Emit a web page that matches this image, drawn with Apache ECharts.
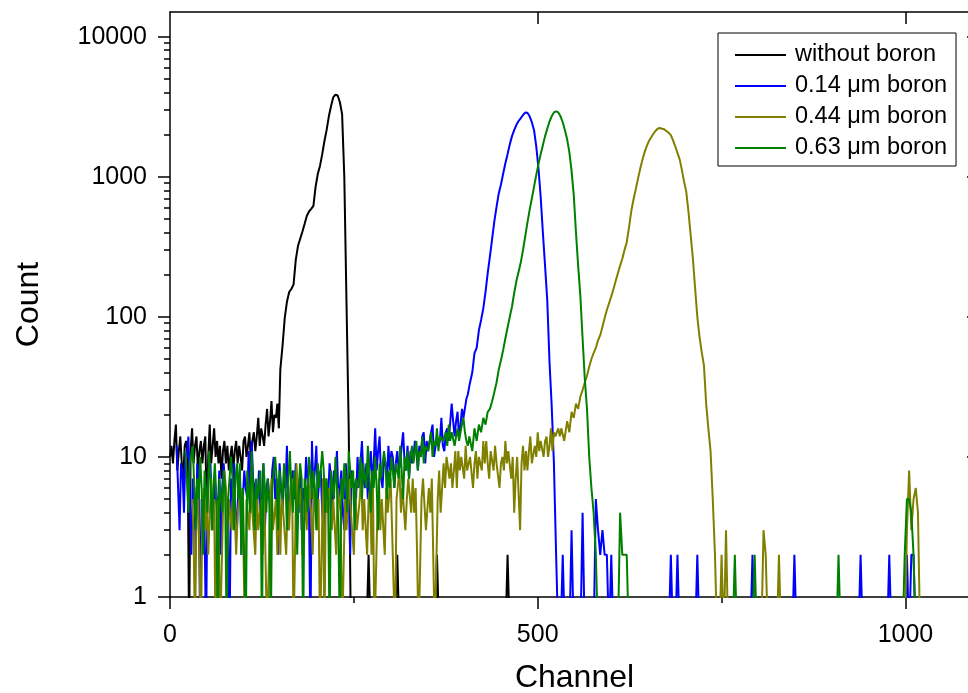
<!DOCTYPE html>
<html><head><meta charset="utf-8">
<script src="https://cdn.jsdelivr.net/npm/echarts@6/dist/echarts.min.js"></script>
<style>html,body{margin:0;padding:0;background:#fff}#chart{width:968px;height:693px}</style>
</head><body><div id="chart"></div>
<script>
// ---- data ----
const seriesNames = ['without boron', '0.14 \u03bcm boron', '0.44 \u03bcm boron', '0.63 \u03bcm boron'];
const xTickValues = [0, 500, 1000];
const xMinorTickValues = [250, 750];
const xTopTickValues = [500, 1000];
const yTickValues = [1, 10, 100, 1000, 10000];
const yRightTickValues = [10, 100, 1000, 10000];
const yMinorTickValues = [2,3,4,5,6,7,8,9,20,30,40,50,60,70,80,90,200,300,400,500,600,700,800,900,2000,3000,4000,5000,6000,7000,8000,9000];

// Low-count noise region: counts every NOISE_STEP channels from a start channel
const NOISE_STEP = 2;
const withoutBoronNoiseStart = 0;
const withoutBoronNoise = [10,12,9,13,17,8,11,14,9,7, 12,13,10,0,11,16,9,12,14,8, 11,13,9,12,14,4,10,17,9,12, 16,10,13,9,12,7,11,13,9,12, 8,10,12,8,11,13,9,12,10,8, 13,14,10,12,15,9,13,15,11,14, 19,12,16,14,12,17,22,14,18,25, 15,20,19,24,16];
const boron014NoiseStart = 9;
const boron014Noise = [12,6,3,9,8,4,11,10,14,5, 2,7,6,2,9,7,0,5,4,3, 0,6,8,9,4,3,7,5,4,8, 2,6,9,6,5,3,0,7,5,9, 4,3,6,8,2,5,8,6,5,11, 4,13,7,6,3,5,8,4,5,9, 3,6,7,5,4,8,10,5,7,2, 9,6,4,7,6,12,3,5,7,8, 5,9,6,4,8,3,6,5,10,7, 4,0,13,6,8,12,5,7,8,4, 3,7,6,5,9,7,4,8,7,11, 5,6,8,4,3,9,6,7,2,8, 8,6,5,10,6,9,13,7,6,9, 5,8,11,7,9,16,8,11,14,7, 6,10,9,7,12,8,11,10,6,9, 11,8,9,12,15,9,8,12,7,11, 9,10,13,11,8,12,10,14,15,9, 13,11,11,15,17,10,10,14,12,13, 19,12,11,15,16,13,13,24,18,14, 18,21,14,17,22,19,19,26,28,32];
const boron044NoiseStart = 30;
const boron044Noise = [5,3,0,4,6,2,0,4,6,3, 5,2,2,7,3,5,0,4,5,0, 0,4,8,6,2,5,5,3,6,4, 2,4,4,6,3,2,0,5,5,3, 7,4,4,2,6,3,3,5,2,6, 6,0,0,4,7,3,3,5,2,6, 2,6,4,4,2,5,3,6,7,0, 0,9,4,4,6,2,2,5,3,7, 7,4,2,6,6,3,5,0,0,7, 0,7,4,6,6,3,5,5,2,6, 6,4,0,0,5,3,3,7,4,4, 2,6,3,3,5,8,3,5,5,2, 5,6,2,6,0,0,4,7,3,5, 5,2,6,4,4,7,3,3,0,5, 5,8,4,6,6,3,5,7,7,4, 7,4,6,2,0,0,5,7,7,3, 3,6,4,7,7,0,0,5,8,4, 4,9,6,10,10,7,9,6,8,11, 6,11,8,10,10,7,12,8,8,10, 10,6,9,11,7,10,10,8,13,9, 13,9,7,11,11,8,12,9,9,6, 9,10,8,13,9,11,11,7,10,4, 7,10,10,3,9,12,8,11,8,11, 14,9,9,12,10,15,11,13,13,10, 13,14,10,12,16,11,15,14,14,16, 14,16,16,13];
const boron063NoiseStart = 21;
const boron063Noise = [11,7,4,9,9,12,6,3,7,5, 10,6,2,8,8,4,11,7,3,6, 9,5,0,7,7,4,8,6,0,5, 5,10,7,3,7,9,5,9,2,6, 6,0,8,8,4,11,6,3,7,5, 5,8,0,9,9,4,7,5,0,6, 6,10,7,3,8,6,5,9,7,3, 7,11,6,4,8,5,2,6,9,7, 0,7,6,4,10,8,5,8,6,3, 9,6,6,11,8,4,7,5,0,8, 8,5,10,6,3,0,7,5,9,7, 4,11,8,6,8,3,7,6,7,10, 5,9,7,6,12,8,4,8,6,10, 6,3,9,7,7,11,9,5,8,6, 10,8,6,9,9,7,12,8,5,10, 8,11,7,10,12,9,9,13,8,11, 10,14,9,12,12,11,11,15,10,13, 12,16,11,14,14,13,13,15,12,17, 13,15,15,12,14,16,13,15,17,19, 15,13,12,14];

// Peaks and sparse tails: [channel, count]
const withoutBoronPeak = [[150,42],[153,62],[156,98],[159,128],[162,150],[165,158],[168,170],[171,255],[174,320],[177,360],[180,405],[183,460],[186,525],[189,565],[192,590],[195,620],[198,850],[201,1050],[204,1200],[207,1450],[210,1800],[213,2160],[216,2700],[219,3200],[222,3700],[225,3850],[228,3800],[231,3400],[234,2800],[237,1000],[240,125],[243,16],[246,0],[267,0],[270,2],[273,0],[306,0],[309,2],[312,0],[360,0],[363,2],[366,0],[456,0],[459,2],[462,0],[1023,0]];

const boron014Peak = [[408,34],[411,40],[414,55],[417,60],[420,80],[423,95],[426,115],[429,150],[432,205],[435,270],[438,360],[441,480],[444,610],[447,760],[450,880],[453,1050],[456,1250],[459,1450],[462,1700],[465,1950],[468,2150],[471,2350],[474,2500],[477,2620],[480,2760],[483,2870],[486,2860],[489,2700],[492,2450],[495,2150],[498,1650],[501,1150],[504,720],[507,400],[510,230],[513,130],[516,48],[519,23],[522,9],[525,2],[528,0],[531,0],[534,2],[537,0],[543,0],[546,3],[549,0],[558,0],[561,4],[564,0],[576,0],[579,5],[582,3],[585,2],[588,3],[591,2],[594,2],[597,0],[600,2],[603,0],[678,0],[681,2],[684,0],[687,0],[690,2],[693,0],[714,0],[717,2],[720,0],[789,0],[792,2],[795,0],[846,0],[849,2],[852,0],[936,0],[939,2],[942,0],[975,0],[978,2],[981,0],[999,0],[1002,2],[1005,0],[1008,2],[1011,2],[1014,0],[1023,0]];

const boron044Peak = [[540,18],[543,15],[546,21],[549,19],[552,24],[555,22],[558,27],[561,30],[564,34],[567,38],[570,44],[573,50],[576,55],[579,60],[582,68],[585,74],[588,85],[591,98],[594,112],[597,125],[600,140],[603,158],[606,180],[609,205],[612,232],[615,260],[618,300],[621,340],[624,430],[627,560],[630,680],[633,800],[636,950],[639,1120],[642,1300],[645,1480],[648,1640],[651,1790],[654,1900],[657,2020],[660,2120],[663,2200],[666,2230],[669,2200],[672,2180],[675,2120],[678,2060],[681,1980],[684,1820],[687,1650],[690,1480],[693,1330],[696,1120],[699,920],[702,780],[705,560],[708,380],[711,260],[714,160],[717,100],[720,72],[723,56],[726,45],[729,24],[732,16],[735,11],[738,5],[741,2],[744,0],[747,0],[750,2],[753,0],[756,3],[759,0],[804,0],[807,3],[810,2],[813,0],[825,0],[828,2],[831,0],[999,0],[1002,3],[1005,8],[1008,3],[1011,5],[1014,6],[1017,4],[1020,0],[1023,0]];

const boron063Peak = [[408,14],[411,11],[414,16],[417,13],[420,17],[423,15],[426,19],[429,17],[432,21],[435,22],[438,25],[441,29],[444,34],[447,42],[450,49],[453,58],[456,70],[459,84],[462,100],[465,118],[468,148],[471,180],[474,210],[477,245],[480,300],[483,375],[486,470],[489,580],[492,700],[495,850],[498,1030],[501,1230],[504,1450],[507,1680],[510,1950],[513,2200],[516,2480],[519,2700],[522,2880],[525,2930],[528,2880],[531,2700],[534,2450],[537,2150],[540,1850],[543,1500],[546,1100],[549,740],[552,400],[555,230],[558,140],[561,70],[564,36],[567,22],[570,10],[573,6],[576,4],[579,2],[582,0],[609,0],[612,4],[615,2],[618,2],[621,2],[624,0],[765,0],[768,2],[771,0],[792,0],[795,2],[798,0],[906,0],[909,2],[912,0],[996,0],[999,2],[1002,5],[1005,5],[1008,4],[1011,2],[1014,0],[1023,0]];

const noiseStarts = [withoutBoronNoiseStart, boron014NoiseStart, boron044NoiseStart, boron063NoiseStart];
const noiseCounts = [withoutBoronNoise, boron014Noise, boron044Noise, boron063Noise];
const peakData = [withoutBoronPeak, boron014Peak, boron044Peak, boron063Peak];

// ---- styles ----
const seriesColors = ['#000000', '#0000ff', '#808000', '#008000'];
const FONT = 'Liberation Sans, Arial, sans-serif';
const LOG_FLOOR = 0.5; // zero counts sit below the log axis (clipped)
const axisLineStyle = { color: '#000', width: 1.5 };

const toPlot = d => d.map(([c, v]) => [c, v > 0 ? v : LOG_FLOOR]);
const buildSeriesData = i => toPlot(
  noiseCounts[i].map((v, k) => [noiseStarts[i] + k * NOISE_STEP, v]).concat(peakData[i])
);

const chart = echarts.init(document.getElementById('chart'), null, { renderer: 'canvas' });
chart.setOption({
  animation: false,
  backgroundColor: '#fff',
  textStyle: { fontFamily: FONT },
  grid: { left: 170, top: 12, width: 809, height: 585, containLabel: false, outerBoundsMode: 'none' },
  legend: {
    orient: 'vertical', left: 718, top: 33,
    padding: [6.5, 9, 2.5, 17], itemGap: 0, itemWidth: 51, itemHeight: 2, icon: 'rect',
    backgroundColor: '#fff', borderColor: '#000', borderWidth: 1, borderRadius: 0,
    selectedMode: false,
    textStyle: { fontSize: 23.5, fontFamily: FONT, color: '#000', lineHeight: 31, padding: [0, 0, 0, 4] },
    data: seriesNames
  },
  xAxis: [
    {
      type: 'value', position: 'bottom', min: 0, max: 1100,
      axisLine: { show: true, onZero: false, lineStyle: axisLineStyle },
      axisTick: { show: true, customValues: xTickValues, length: 12, lineStyle: axisLineStyle },
      axisLabel: { customValues: xTickValues, margin: 26, fontSize: 25, fontFamily: FONT, color: '#000', formatter: v => String(Math.round(v)) },
      splitLine: { show: false },
      name: 'Channel', nameLocation: 'middle', nameGap: 65,
      nameTextStyle: { fontSize: 32, fontFamily: FONT, color: '#000' }
    },
    {
      type: 'value', position: 'bottom', min: 0, max: 1100,
      axisLine: { show: false, onZero: false },
      axisTick: { show: true, customValues: xMinorTickValues, length: 6, lineStyle: axisLineStyle },
      axisLabel: { show: false }, splitLine: { show: false }
    },
    {
      type: 'value', position: 'top', min: 0, max: 1100,
      axisLine: { show: true, onZero: false, lineStyle: axisLineStyle },
      axisTick: { show: true, inside: true, customValues: xTopTickValues, length: 12, lineStyle: axisLineStyle },
      axisLabel: { show: false }, splitLine: { show: false }
    }
  ],
  yAxis: [
    {
      type: 'log', logBase: 10, position: 'left', min: 1, max: 15000,
      axisLine: { show: true, onZero: false, lineStyle: axisLineStyle },
      axisTick: { show: true, customValues: yTickValues, length: 12, lineStyle: axisLineStyle },
      axisLabel: { customValues: yTickValues, margin: 23, fontSize: 25, fontFamily: FONT, color: '#000', formatter: v => String(Math.round(v)) },
      splitLine: { show: false },
      name: 'Count', nameLocation: 'middle', nameGap: 125, nameRotate: 90,
      nameTextStyle: { fontSize: 32, fontFamily: FONT, color: '#000' }
    },
    {
      type: 'log', logBase: 10, position: 'left', min: 1, max: 15000,
      axisLine: { show: false, onZero: false },
      axisTick: { show: true, customValues: yMinorTickValues, length: 6, lineStyle: axisLineStyle },
      axisLabel: { show: false }, splitLine: { show: false }
    },
    {
      type: 'log', logBase: 10, position: 'right', min: 1, max: 15000,
      axisLine: { show: true, onZero: false, lineStyle: axisLineStyle },
      axisTick: { show: true, inside: true, customValues: yRightTickValues, length: 12, lineStyle: axisLineStyle },
      axisLabel: { show: false }, splitLine: { show: false }
    }
  ],
  series: seriesNames.map((name, i) => ({
    name: name, type: 'line', xAxisIndex: 0, yAxisIndex: 0,
    data: buildSeriesData(i), symbol: 'none', showSymbol: false, clip: true,
    lineStyle: { width: 2, color: seriesColors[i] },
    itemStyle: { color: seriesColors[i] },
    emphasis: { disabled: true }
  }))
});
</script></body></html>
